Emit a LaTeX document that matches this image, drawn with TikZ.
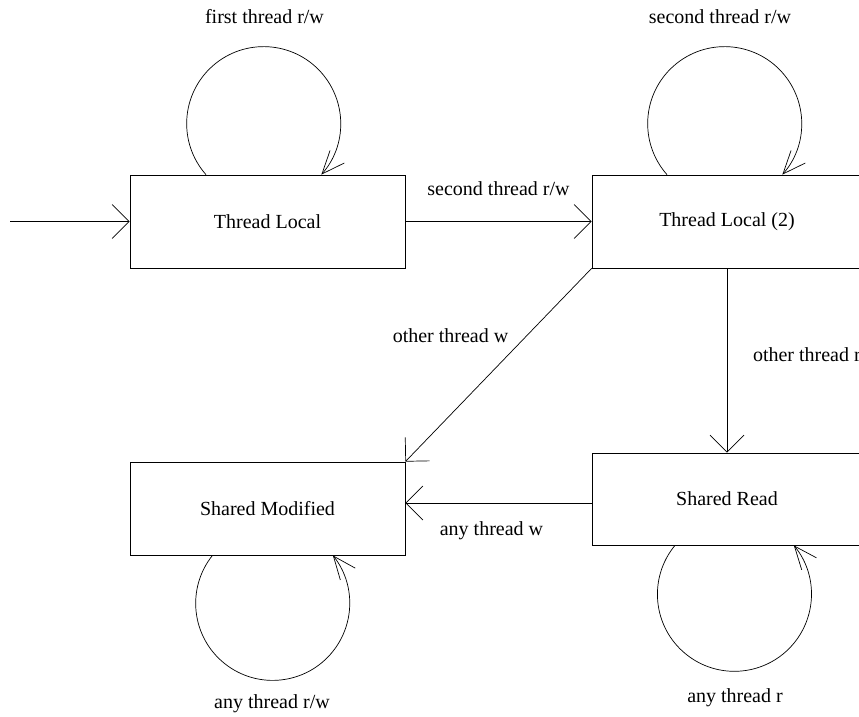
\documentclass[tikz,border=0pt]{standalone}
\usepackage{fontspec}
\setmainfont{Liberation Serif}
\usepackage{tikz}
\usetikzlibrary{arrows.meta}
\tikzset{
  state/.style={draw, line width=0.7pt, minimum width=275pt, minimum height=93pt, inner sep=0pt},
  trans/.style={line width=0.7pt, -{Straight Barb[length=17pt,width=34pt]}},
  selftrans/.style={line width=0.7pt, -{Straight Barb[length=23pt,width=19pt]}},
}

\begin{document}
\begin{tikzpicture}[x=1pt, y=1pt]\fontsize{20}{24}\selectfont
          \useasboundingbox (0,0) rectangle (859,716);
          \node[state] (tl) at (267.5,494.5) {Thread Local};
          \node[state, minimum width=270pt] (tltwo) at (727,494.5) {Thread Local (2)};
          \node[state] (sm) at (267.5,207.5) {Shared Modified};
          \node[state, minimum width=270pt, minimum height=92pt] (sr) at (727,217) {Shared Read};
          \coordinate (start) at (10,494.5);

          \draw[trans] (start) -- (tl.west);
          \draw[trans] (tl.east) -- node[midway, yshift=33pt]{second thread r/w} (tltwo.west);
          \draw[trans] (tltwo.south west) -- node[midway, xshift=-48pt, yshift=29pt]{other thread w} (sm.north east);
          \draw[trans] (tltwo.south) -- node[midway, right=19pt, yshift=6pt]{other thread r} (sr.north);
          \draw[trans] ([yshift=-4pt]sr.west) -- node[midway, xshift=-7pt, yshift=-28pt]{any thread w} ([yshift=-4pt]sr.west -| sm.east);

          \draw[selftrans] ([xshift=-61.5pt]tl.north) arc[start angle=221.5, end angle=-41.5, radius=77pt];
          \draw[selftrans] ([xshift=-60pt]tltwo.north) arc[start angle=221.5, end angle=-41.5, radius=77pt];
          \draw[selftrans] ([xshift=-55pt]sm.south) arc[start angle=141.4, end angle=398.6, radius=77pt];
          \draw[selftrans] ([xshift=-52pt]sr.south) arc[start angle=140.5, end angle=399.5, radius=77pt];

          \node (tlloop) at ([xshift=-3pt, yshift=158pt]tl.north) {first thread r/w};
          \node (tltwoloop) at ([xshift=-7pt, yshift=158pt]tltwo.north) {second thread r/w};
          \node (smloop) at ([xshift=4.5pt, yshift=-148pt]sm.south) {any thread r/w};
          \node (srloop) at ([xshift=8pt, yshift=-152pt]sr.south) {any thread r};
        \end{tikzpicture}
\end{document}
